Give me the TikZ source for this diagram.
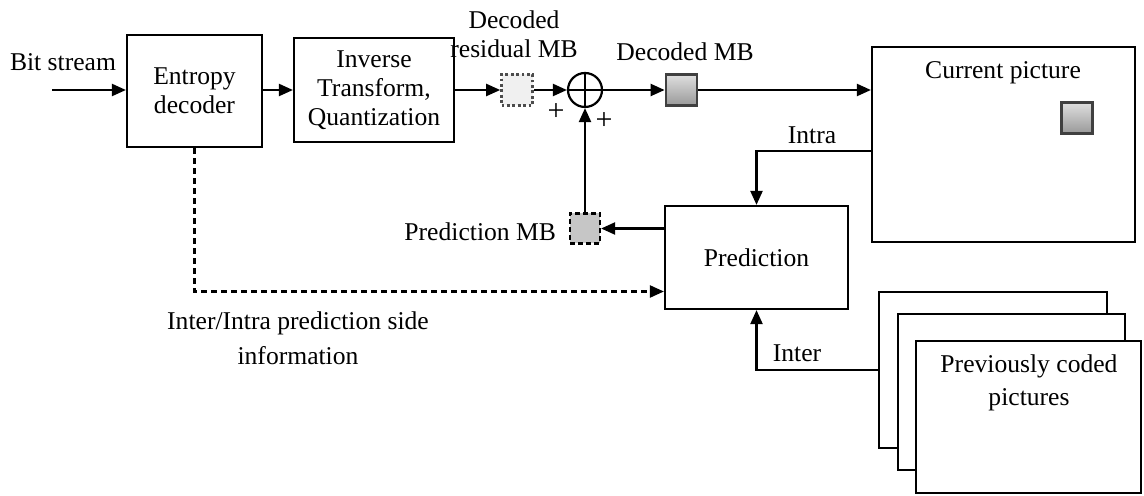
\documentclass[tikz,border=0pt]{standalone}
\usepackage{fontspec}
\setmainfont{Liberation Serif}
\usetikzlibrary{arrows.meta}
\tikzset{
  blk/.style={draw,line width=1.1pt,fill=white,align=center,inner sep=0pt},
  arr/.style={line width=1.1pt,-{Triangle[length=7pt,width=6pt]}},
  mb/.style={minimum size=15.5pt,inner sep=0pt},
  mbfull/.style={mb,top color=gray!25,bottom color=gray!80,draw=black!75,line width=1.4pt},
}

\begin{document}
\begin{tikzpicture}[x=0.5pt,y=-0.5pt,font=\fontsize{12.8}{14.5}\selectfont]
   \useasboundingbox (0,0) rectangle (1144,496);
   \node[blk,minimum width=67.5pt,minimum height=56pt] (ent) at (194.5,91) {Entropy\\decoder};
   \node[blk,minimum width=80pt,minimum height=52pt] (inv) at (374,90) {Inverse\\Transform,\\Quantization};
   \node[mb,fill=gray!12,draw=gray!60!black,line width=1.3pt,dash pattern=on 1.4pt off 1.3pt] (res) at (517,90) {};
   \node[draw,circle,line width=1.1pt,minimum size=17pt,inner sep=0pt] (add) at (585,90) {};
   \draw[line width=1.1pt] (add.north) -- (add.south) (add.west) -- (add.east);
   \node[mbfull] (dmb) at (681.5,90) {};
   \node[blk,minimum width=131.5pt,minimum height=97.5pt] (cur) at (1003.5,144.5) {};
   \node (curlbl) at (1003,73) {Current picture};
   \node[mbfull] (curmb) at (1077,118) {};
   \node[blk,minimum width=91.5pt,minimum height=51.5pt] (pred) at (756.5,257.5) {Prediction};
   \node[mb,minimum size=15pt,fill=gray!45,draw,line width=1.1pt,dash pattern=on 2.5pt off 1.5pt] (pmb) at (585,228.5) {};
   \node[blk,minimum width=114pt,minimum height=78pt] (prv1) at (993,370) {};
   \node[blk,minimum width=113.5pt,minimum height=78pt] (prv2) at (1011.5,392) {};
   \node[blk,minimum width=112.5pt,minimum height=76pt] (prv3) at (1028.5,417) {};
   \node[align=center] (prvlbl) at (1029,383) {Previously coded\\[2pt]pictures};

   \node (bslbl) at (63,62) {Bit stream};
   \node[align=center] (reslbl) at (514,34) {Decoded\\residual MB};
   \node (dmblbl) at (685,52) {Decoded MB};
   \node (intralbl) at (812,135) {Intra};
   \node (interlbl) at (797,353) {Inter};
   \node[anchor=east] (pmblbl) at (563,232) {Prediction MB};
   \node[font=\fontsize{15}{15}\selectfont] (plusa) at (556,112) {+};
   \node[font=\fontsize{15}{15}\selectfont] (plusb) at (604,121) {+};
   \node[align=center] (sidelbl) at (298,338) {Inter/Intra prediction side\\[3pt]information};

   \coordinate (bs) at (52,90);
   \draw[arr] (bs) -- (bs -| ent.west);
   \draw[arr] (ent.east |- inv) -- (inv.west);
   \draw[arr] (inv.east) -- (res.west);
   \draw[arr] (res.east) -- (add.west);
   \draw[arr] (add.east) -- (dmb.west);
   \draw[arr] (dmb.east) -- (dmb.east -| cur.west);
   \draw[arr] ([yshift=-3.25pt]cur.west) -| (pred.north);
   \draw[arr] (pred.west |- pmb) -- (pmb.east);
   \draw[arr] (pmb.north) -- (add.south);
   \draw[arr,dash pattern=on 3pt off 2pt] (ent.south) |- ([yshift=-17pt]pred.west);
   \draw[arr] (prv1.west) -| (pred.south);
  \end{tikzpicture}
\end{document}
